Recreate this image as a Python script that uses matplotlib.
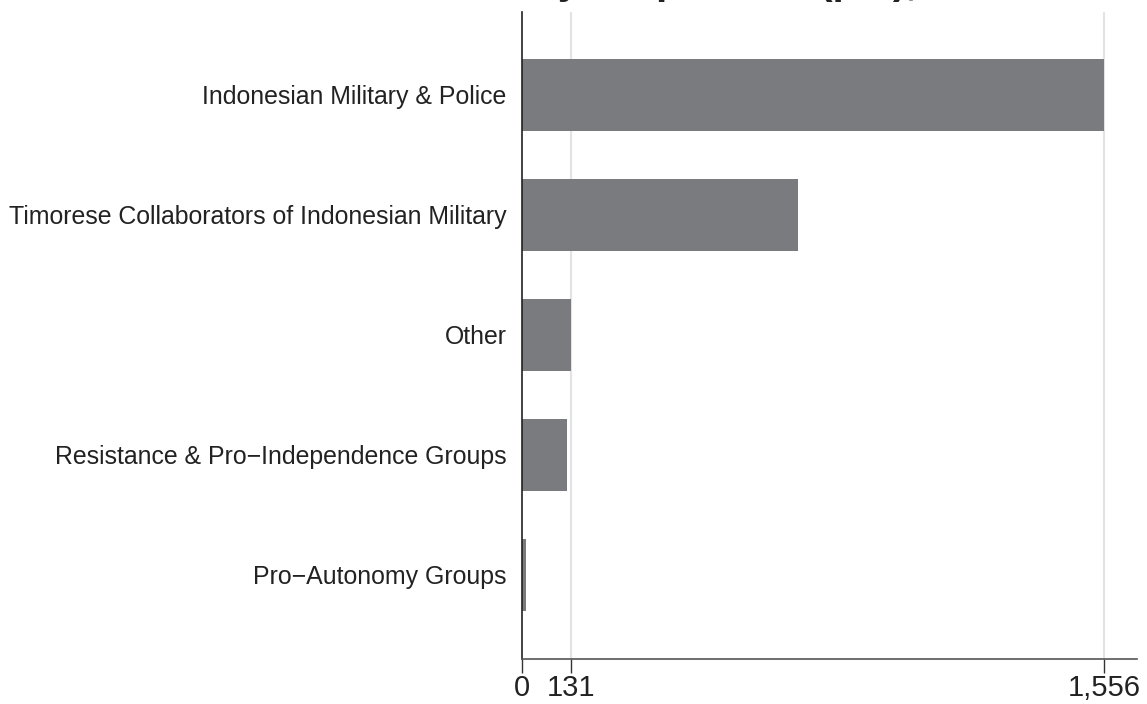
import numpy as np
import matplotlib.pyplot as plt

plt.rcParams['font.family'] = ['Liberation Sans', 'DejaVu Sans']

groups = ["Indonesian Military & Police",
          "Timorese Collaborators of Indonesian Military",
          "Other",
          "Resistance & Pro\u2212Independence Groups",
          "Pro\u2212Autonomy Groups"]
killings = [1556, 739, 131, 122, 11]
xticks = [0, 131, 1556]
xtick_labels = ["0", "131", "1,556"]

fig = plt.figure(figsize=(11.47, 7.04), dpi=100)
ax = fig.add_axes([0.4548, 0.0639, 0.9913 - 0.4548, 0.983 - 0.0639])

ypos = np.arange(len(groups))[::-1]
for x in xticks[1:]:
    ax.axvline(x, color='#e3e3e3', lw=1.5, zorder=0)
ax.barh(ypos, killings, height=0.6, color='#7a7b7f', zorder=2)

ax.set_xlim(0, 1644)
ax.set_ylim(-0.7, 4.69)
ax.set_yticks(ypos)
ax.set_yticklabels(groups, fontsize=17.9, color='#222222')
ax.set_xticks(xticks)
ax.set_xticklabels(xtick_labels, fontsize=21, color='#222222')
ax.tick_params(axis='y', length=0, pad=11)
ax.tick_params(axis='x', length=10, width=1, color='#333333', pad=1)

for s in ['top', 'right']:
    ax.spines[s].set_visible(False)
ax.spines['left'].set_color('#222222')
ax.spines['left'].set_linewidth(1.2)
ax.spines['bottom'].set_color('#555555')
ax.spines['bottom'].set_linewidth(1.2)

# title sits almost entirely above the canvas, only descenders show
fig.text(388 / 1147, 1 + 6 / 704, "Deaths by Perpetrator (pct), 1974\u20131999",
         fontsize=29, fontweight='bold', color='#222222', ha='left', va='baseline')

fig.savefig("out.png", dpi=100)
